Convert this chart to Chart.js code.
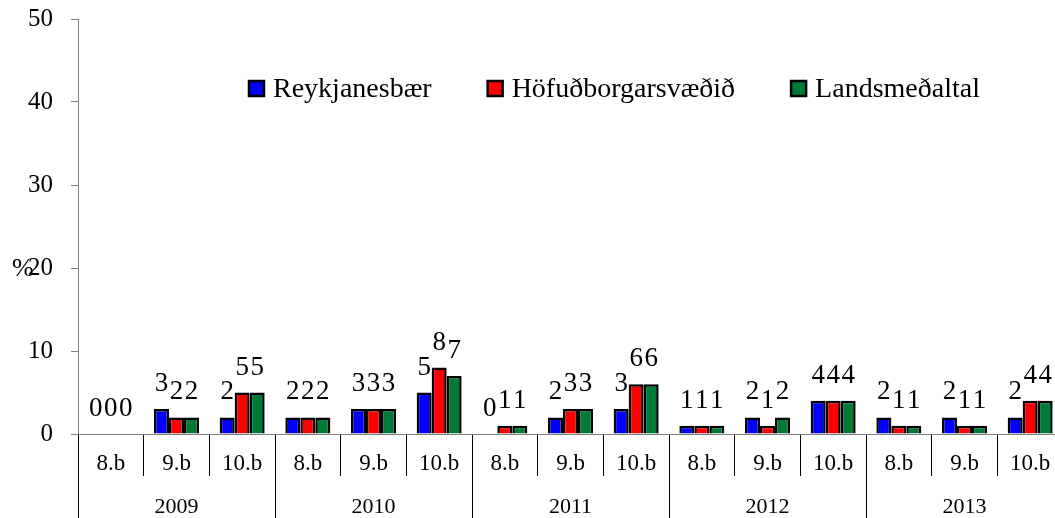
<!DOCTYPE html>
<html>
<head>
<meta charset="utf-8">
<script src="https://cdn.jsdelivr.net/npm/chart.js@4.4.1/dist/chart.umd.min.js"></script>
<style>
  html, body { margin: 0; padding: 0; background: #fff; overflow: hidden; }
  #chart { display: block; }
</style>
</head>
<body>
<!-- the last category runs a little past the right edge of the window, as in the original -->
<canvas id="chart" width="1063" height="518"></canvas>
<script>
const grades = ["8.b", "9.b", "10.b", "8.b", "9.b", "10.b", "8.b", "9.b", "10.b", "8.b", "9.b", "10.b", "8.b", "9.b", "10.b"];
const years = ["2009", "2010", "2011", "2012", "2013"];
const seriesNames = ["Reykjanesbær", "Höfuðborgarsvæðið", "Landsmeðaltal"];
const reykjanesbaer = [0, 3, 2, 2, 3, 5, 0, 2, 3, 1, 2, 4, 2, 2, 2];
const hofudborg = [0, 2, 5, 2, 3, 8, 1, 3, 6, 1, 1, 4, 1, 1, 4];
const landsmedaltal = [0, 2, 5, 2, 3, 7, 1, 3, 6, 1, 2, 4, 1, 1, 4];
const yTicks = [0, 10, 20, 30, 40, 50];

const serif = "'Liberation Serif', 'Times New Roman', serif";
const colors = ["#0000ff", "#ff0000", "#007a37"];

// numbers above every bar
const valueLabels = {
  id: "valueLabels",
  afterDatasetsDraw(chart) {
    const ctx = chart.ctx;
    ctx.save();
    ctx.font = "27px " + serif;
    ctx.fillStyle = "#000";
    ctx.textAlign = "center";
    ctx.textBaseline = "alphabetic";
    chart.data.datasets.forEach(function (ds, i) {
      chart.getDatasetMeta(i).data.forEach(function (bar, j) {
        ctx.fillText(String(ds.data[j]), bar.x, bar.y - 18);
      });
    });
    ctx.restore();
  }
};

// legend inside the plot + the "%" axis text
const extras = {
  id: "extras",
  afterDraw(chart) {
    const ctx = chart.ctx;
    ctx.save();
    ctx.font = "28px " + serif;
    ctx.textBaseline = "alphabetic";
    let x = 249;
    chart.data.datasets.forEach(function (ds) {
      ctx.fillStyle = ds.backgroundColor;
      ctx.fillRect(x, 81, 15, 15);
      ctx.lineWidth = 2.5;
      ctx.strokeStyle = "#000";
      ctx.strokeRect(x, 81, 15, 15);
      ctx.fillStyle = "#000";
      ctx.fillText(ds.label, x + 24, 97);
      x += 24 + ctx.measureText(ds.label).width + 56;
    });

    const y = chart.scales.y;
    ctx.font = "26px " + serif;
    ctx.fillText("%", 12, y.getPixelForValue(20) + 8);
    ctx.restore();
  }
};

const datasets = [reykjanesbaer, hofudborg, landsmedaltal].map(function (values, i) {
  return {
    label: seriesNames[i],
    data: values,
    backgroundColor: colors[i],
    borderColor: "#000",
    borderWidth: 2.5,
    borderSkipped: "start"
  };
});

new Chart(document.getElementById("chart"), {
  type: "bar",
  data: { labels: grades, datasets: datasets },
  options: {
    responsive: false,
    animation: false,
    categoryPercentage: 0.685,
    barPercentage: 1,
    layout: { padding: { top: 19, right: 0, left: 0, bottom: 0 } },
    plugins: {
      legend: { display: false },
      tooltip: { enabled: false }
    },
    scales: {
      x: {
        position: "bottom",
        weight: 0,
        offset: true,
        grid: { offset: true, drawOnChartArea: false, drawTicks: true, tickLength: 42, color: "#000", lineWidth: 1 },
        border: { display: true, color: "#808080", width: 1 },
        ticks: { color: "#000", font: { family: serif, size: 23 }, padding: -26, maxRotation: 0, autoSkip: false },
        afterFit: function (scale) { scale.height = 42; }
      },
      x2: {
        type: "category",
        labels: years,
        position: "bottom",
        weight: 1,
        offset: true,
        grid: { offset: true, drawOnChartArea: false, drawTicks: true, tickLength: 42, color: "#000", lineWidth: 1 },
        border: { display: false },
        ticks: { color: "#000", font: { family: serif, size: 22 }, padding: -24, maxRotation: 0, autoSkip: false },
        afterFit: function (scale) { scale.height = 42; }
      },
      y: {
        min: 0,
        max: 50,
        afterBuildTicks: function (scale) { scale.ticks = yTicks.map(function (v) { return { value: v }; }); },
        grid: { drawOnChartArea: false, drawTicks: true, tickLength: 7, color: "#808080" },
        border: { display: true, color: "#808080", width: 1 },
        ticks: { color: "#000", font: { family: serif, size: 25 }, padding: 18 },
        afterFit: function (scale) {
          scale.width = 78;
          // tick padding would otherwise push the plot top down
          scale.paddingTop = 0;
          scale.paddingBottom = 0;
        }
      }
    }
  },
  plugins: [valueLabels, extras]
});
</script>
</body>
</html>
